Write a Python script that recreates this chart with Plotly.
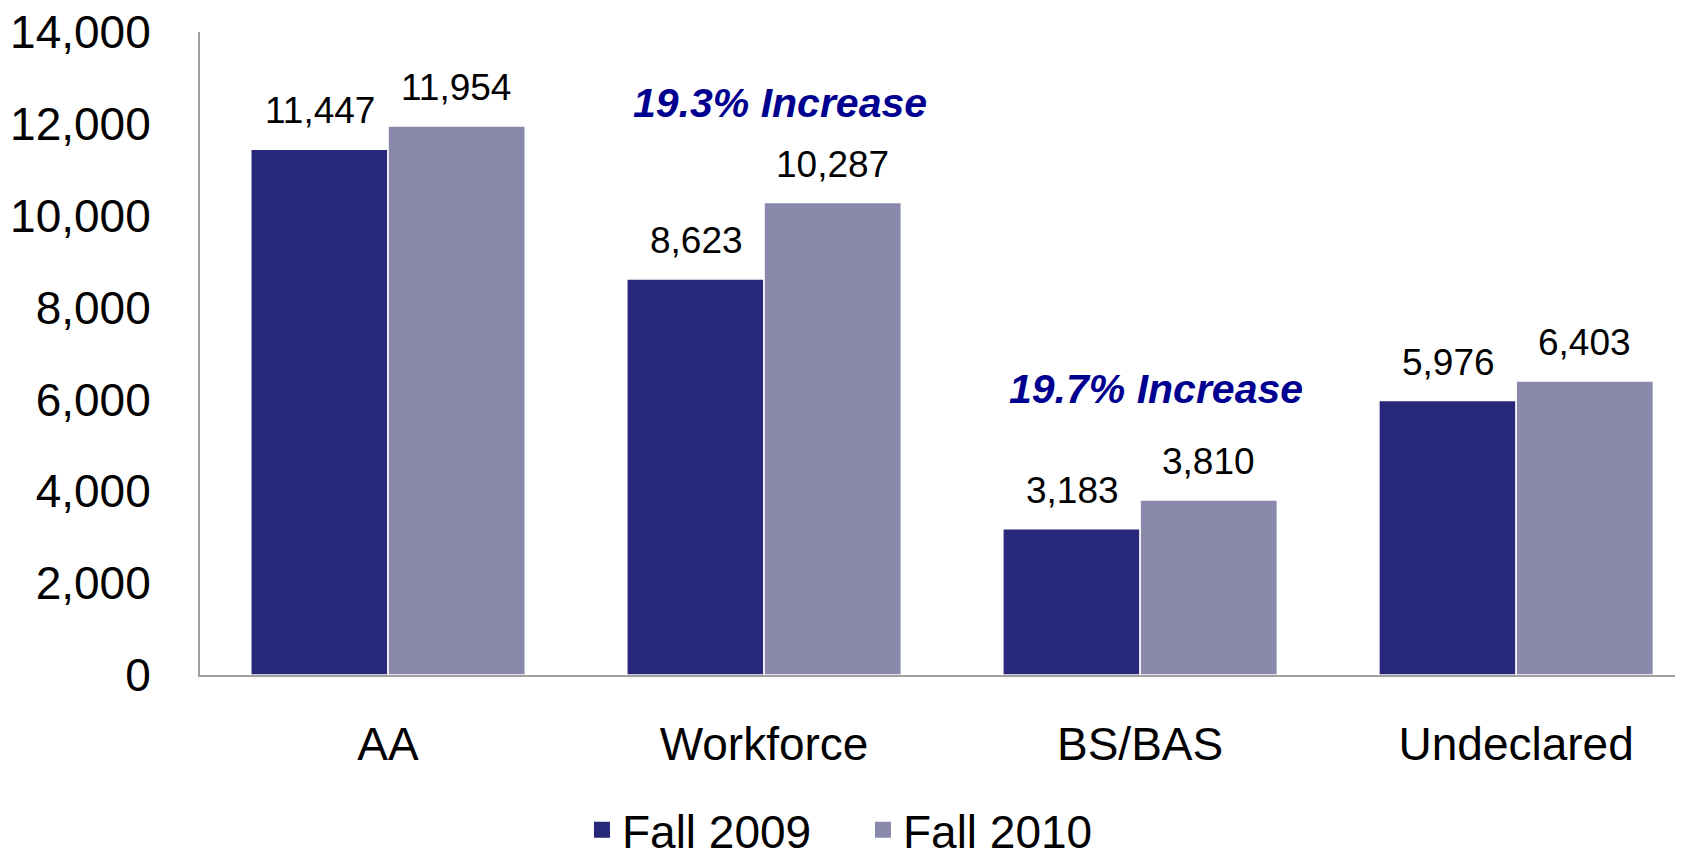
import plotly.graph_objects as go

categories = ["AA", "Workforce", "BS/BAS", "Undeclared"]
fall_2009 = [11447, 8623, 3183, 5976]
fall_2010 = [11954, 10287, 3810, 6403]
y_ticks = [0, 2000, 4000, 6000, 8000, 10000, 12000, 14000]

# increase notes: (category, y position, text)
notes = [("Workforce", 12450, "19.3% Increase"),
         ("BS/BAS", 6220, "19.7% Increase")]

FONT = "Liberation Sans, Arial, sans-serif"
DARK = "#27287A"
LIGHT = "#8989AC"

fig = go.Figure()
fig.add_trace(go.Bar(x=categories, y=fall_2009, name="Fall 2009", showlegend=False,
                     marker=dict(color=DARK, line=dict(color="white", width=1.5))))
fig.add_trace(go.Bar(x=categories, y=fall_2010, name="Fall 2010", showlegend=False,
                     marker=dict(color=LIGHT, line=dict(color="white", width=1.5))))

# legend entries with bigger square keys
for name, col in [("Fall 2009", DARK), ("Fall 2010", LIGHT)]:
    fig.add_trace(go.Scatter(x=[None], y=[None], mode="markers", name=name,
                             marker=dict(symbol="square", size=22, color=col)))

# value labels above each bar
for vals, shift in [(fall_2009, -68), (fall_2010, 68)]:
    for cat, v in zip(categories, vals):
        fig.add_annotation(x=cat, y=v, text=f"{v:,}", showarrow=False,
                           xshift=shift, yshift=16, yanchor="bottom",
                           font=dict(family=FONT, size=37, color="black"))

for cat, y, txt in notes:
    fig.add_annotation(x=cat, y=y, text=f"<b><i>{txt}</i></b>", showarrow=False,
                       xshift=16, font=dict(family=FONT, size=41, color="#000090"))

fig.update_layout(
    width=1683, height=849,
    margin=dict(l=192, r=0, t=24, b=182),
    paper_bgcolor="white", plot_bgcolor="white",
    barmode="group", bargap=0.27, bargroupgap=0.0,
    font=dict(family=FONT, size=46, color="black"),
    legend=dict(orientation="h", x=0.508, xanchor="center", xref="container",
                y=0.032, yanchor="middle", yref="container",
                font=dict(size=46), itemwidth=30, entrywidth=236, traceorder="normal"),
)
fig.update_xaxes(range=[-0.5, 3.465], showline=True, linecolor="#A0A0A0", linewidth=2,
                 ticks="", tickfont=dict(size=46), ticklabelstandoff=28, automargin=False)
fig.update_yaxes(range=[0, 14000], tickvals=y_ticks, tickformat=",", showgrid=False,
                 showline=True, linecolor="#A0A0A0", linewidth=2, ticks="",
                 zeroline=False, tickfont=dict(size=46), ticklabelstandoff=38,
                 ticklabeloverflow="allow", automargin=False)

fig.write_html("out.html")
